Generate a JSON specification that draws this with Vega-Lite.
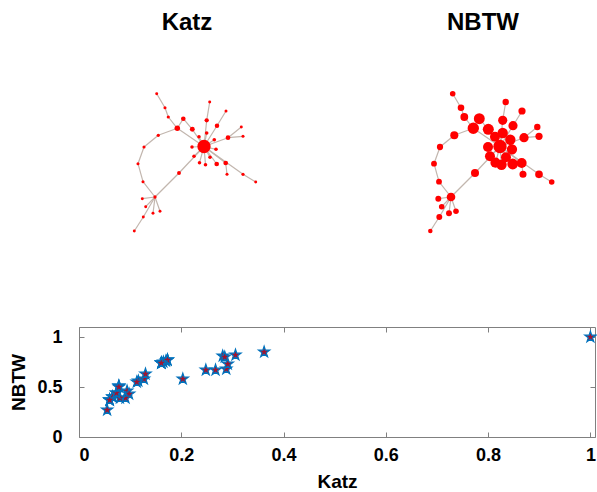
{
  "$schema": "https://vega.github.io/schema/vega-lite/v6.json",
  "background": "white",
  "padding": {"left": 9, "top": 11, "right": 0, "bottom": 0},
  "config": {
    "view": {"stroke": null},
    "font": "Liberation Sans",
    "title": {"fontSize": 24, "fontWeight": "bold", "color": "#000000", "anchor": "middle", "offset": 6}
  },
  "datasets": {
    "nodes": [
      {"id": 0, "x": 205, "y": 145.5, "katz": 1, "nbtw": 1},
      {"id": 1, "x": 157.7, "y": 92.7, "katz": 0.06, "nbtw": 0.37},
      {"id": 2, "x": 166, "y": 106.7, "katz": 0.094, "nbtw": 0.46},
      {"id": 3, "x": 169.3, "y": 116, "katz": 0.116, "nbtw": 0.56},
      {"id": 4, "x": 178.3, "y": 127.3, "katz": 0.362, "nbtw": 0.85},
      {"id": 5, "x": 184.3, "y": 117.7, "katz": 0.281, "nbtw": 0.81},
      {"id": 6, "x": 193.3, "y": 128.3, "katz": 0.306, "nbtw": 0.82},
      {"id": 7, "x": 159.3, "y": 134.3, "katz": 0.127, "nbtw": 0.58},
      {"id": 8, "x": 145, "y": 146, "katz": 0.098, "nbtw": 0.43},
      {"id": 9, "x": 139, "y": 162.7, "katz": 0.091, "nbtw": 0.39},
      {"id": 10, "x": 144, "y": 180.7, "katz": 0.08, "nbtw": 0.39},
      {"id": 11, "x": 156, "y": 196, "katz": 0.13, "nbtw": 0.63},
      {"id": 12, "x": 180, "y": 172, "katz": 0.203, "nbtw": 0.58},
      {"id": 13, "x": 143.3, "y": 197.7, "katz": 0.066, "nbtw": 0.4},
      {"id": 14, "x": 146.7, "y": 205.7, "katz": 0.06, "nbtw": 0.37},
      {"id": 15, "x": 154, "y": 212.3, "katz": 0.066, "nbtw": 0.4},
      {"id": 16, "x": 161, "y": 210.3, "katz": 0.06, "nbtw": 0.37},
      {"id": 17, "x": 144.3, "y": 216, "katz": 0.066, "nbtw": 0.4},
      {"id": 18, "x": 135.3, "y": 230, "katz": 0.055, "nbtw": 0.27},
      {"id": 19, "x": 210.7, "y": 101, "katz": 0.073, "nbtw": 0.44},
      {"id": 20, "x": 207.7, "y": 119.3, "katz": 0.248, "nbtw": 0.67},
      {"id": 21, "x": 227, "y": 110, "katz": 0.078, "nbtw": 0.51},
      {"id": 22, "x": 218, "y": 124.7, "katz": 0.267, "nbtw": 0.67},
      {"id": 23, "x": 242.3, "y": 126, "katz": 0.073, "nbtw": 0.44},
      {"id": 24, "x": 244, "y": 135.3, "katz": 0.078, "nbtw": 0.51},
      {"id": 25, "x": 229, "y": 136.7, "katz": 0.288, "nbtw": 0.68},
      {"id": 26, "x": 207.7, "y": 132, "katz": 0.173, "nbtw": 0.77},
      {"id": 27, "x": 200, "y": 135.7, "katz": 0.161, "nbtw": 0.74},
      {"id": 28, "x": 215.3, "y": 138.7, "katz": 0.173, "nbtw": 0.77},
      {"id": 29, "x": 193, "y": 146, "katz": 0.161, "nbtw": 0.74},
      {"id": 30, "x": 217, "y": 148.3, "katz": 0.17, "nbtw": 0.76},
      {"id": 31, "x": 195, "y": 155.3, "katz": 0.161, "nbtw": 0.74},
      {"id": 32, "x": 200.5, "y": 161.7, "katz": 0.165, "nbtw": 0.75},
      {"id": 33, "x": 206.5, "y": 163.7, "katz": 0.173, "nbtw": 0.77},
      {"id": 34, "x": 211, "y": 156.3, "katz": 0.161, "nbtw": 0.74},
      {"id": 35, "x": 217.7, "y": 163, "katz": 0.285, "nbtw": 0.8},
      {"id": 36, "x": 226.7, "y": 162, "katz": 0.291, "nbtw": 0.73},
      {"id": 37, "x": 228, "y": 173.3, "katz": 0.078, "nbtw": 0.5},
      {"id": 38, "x": 244, "y": 173.3, "katz": 0.113, "nbtw": 0.55},
      {"id": 39, "x": 256.7, "y": 181, "katz": 0.06, "nbtw": 0.37}
    ],
    "edges": [
      {"x1": 157.7, "y1": 92.7, "x2": 166, "y2": 106.7},
      {"x1": 166, "y1": 106.7, "x2": 169.3, "y2": 116},
      {"x1": 169.3, "y1": 116, "x2": 178.3, "y2": 127.3},
      {"x1": 178.3, "y1": 127.3, "x2": 184.3, "y2": 117.7},
      {"x1": 184.3, "y1": 117.7, "x2": 193.3, "y2": 128.3},
      {"x1": 193.3, "y1": 128.3, "x2": 205, "y2": 145.5},
      {"x1": 178.3, "y1": 127.3, "x2": 205, "y2": 145.5},
      {"x1": 178.3, "y1": 127.3, "x2": 159.3, "y2": 134.3},
      {"x1": 159.3, "y1": 134.3, "x2": 145, "y2": 146},
      {"x1": 145, "y1": 146, "x2": 139, "y2": 162.7},
      {"x1": 139, "y1": 162.7, "x2": 144, "y2": 180.7},
      {"x1": 144, "y1": 180.7, "x2": 156, "y2": 196},
      {"x1": 156, "y1": 196, "x2": 180, "y2": 172},
      {"x1": 180, "y1": 172, "x2": 205, "y2": 145.5},
      {"x1": 156, "y1": 196, "x2": 143.3, "y2": 197.7},
      {"x1": 156, "y1": 196, "x2": 146.7, "y2": 205.7},
      {"x1": 156, "y1": 196, "x2": 154, "y2": 212.3},
      {"x1": 156, "y1": 196, "x2": 161, "y2": 210.3},
      {"x1": 156, "y1": 196, "x2": 144.3, "y2": 216},
      {"x1": 144.3, "y1": 216, "x2": 135.3, "y2": 230},
      {"x1": 210.7, "y1": 101, "x2": 207.7, "y2": 119.3},
      {"x1": 207.7, "y1": 119.3, "x2": 205, "y2": 145.5},
      {"x1": 227, "y1": 110, "x2": 218, "y2": 124.7},
      {"x1": 218, "y1": 124.7, "x2": 205, "y2": 145.5},
      {"x1": 242.3, "y1": 126, "x2": 229, "y2": 136.7},
      {"x1": 244, "y1": 135.3, "x2": 229, "y2": 136.7},
      {"x1": 229, "y1": 136.7, "x2": 205, "y2": 145.5},
      {"x1": 207.7, "y1": 132, "x2": 205, "y2": 145.5},
      {"x1": 200, "y1": 135.7, "x2": 205, "y2": 145.5},
      {"x1": 215.3, "y1": 138.7, "x2": 205, "y2": 145.5},
      {"x1": 193, "y1": 146, "x2": 205, "y2": 145.5},
      {"x1": 217, "y1": 148.3, "x2": 205, "y2": 145.5},
      {"x1": 195, "y1": 155.3, "x2": 205, "y2": 145.5},
      {"x1": 200.5, "y1": 161.7, "x2": 205, "y2": 145.5},
      {"x1": 206.5, "y1": 163.7, "x2": 205, "y2": 145.5},
      {"x1": 211, "y1": 156.3, "x2": 205, "y2": 145.5},
      {"x1": 217.7, "y1": 163, "x2": 205, "y2": 145.5},
      {"x1": 226.7, "y1": 162, "x2": 205, "y2": 145.5},
      {"x1": 226.7, "y1": 162, "x2": 228, "y2": 173.3},
      {"x1": 244, "y1": 173.3, "x2": 205, "y2": 145.5},
      {"x1": 256.7, "y1": 181, "x2": 244, "y2": 173.3}
    ]
  },
  "spacing": 85,
  "vconcat": [
    {
      "spacing": 80,
      "hconcat": [
        {
          "width": 216,
          "height": 200,
          "title": "Katz",
          "layer": [
            {
              "data": {"name": "edges"},
              "mark": {"type": "rule", "color": "#c2b6ae", "strokeWidth": 1.2},
              "encoding": {
                "x": {"field": "x1", "type": "quantitative", "scale": {"domain": [80, 296], "nice": false, "zero": false}, "axis": null},
                "y": {"field": "y1", "type": "quantitative", "scale": {"domain": [40, 240], "reverse": true, "nice": false, "zero": false}, "axis": null},
                "x2": {"field": "x2"},
                "y2": {"field": "y2"}
              }
            },
            {
              "data": {"name": "nodes"},
              "mark": {"type": "circle", "color": "#ff0000", "opacity": 1},
              "encoding": {
                "x": {"field": "x", "type": "quantitative", "scale": {"domain": [80, 296], "nice": false, "zero": false}, "axis": null},
                "y": {"field": "y", "type": "quantitative", "scale": {"domain": [40, 240], "reverse": true, "nice": false, "zero": false}, "axis": null},
                "size": {"field": "katz", "type": "quantitative", "scale": {"type": "pow", "exponent": 2, "domain": [0, 1], "range": [8, 177]}, "legend": null}
              }
            }
          ]
        },
        {
          "width": 216,
          "height": 200,
          "title": "NBTW",
          "layer": [
            {
              "data": {"name": "edges"},
              "mark": {"type": "rule", "color": "#c2b6ae", "strokeWidth": 1.2},
              "encoding": {
                "x": {"field": "x1", "type": "quantitative", "scale": {"domain": [80, 296], "nice": false, "zero": false}, "axis": null},
                "y": {"field": "y1", "type": "quantitative", "scale": {"domain": [40, 240], "reverse": true, "nice": false, "zero": false}, "axis": null},
                "x2": {"field": "x2"},
                "y2": {"field": "y2"}
              }
            },
            {
              "data": {"name": "nodes"},
              "mark": {"type": "circle", "color": "#ff0000", "opacity": 1},
              "encoding": {
                "x": {"field": "x", "type": "quantitative", "scale": {"domain": [80, 296], "nice": false, "zero": false}, "axis": null},
                "y": {"field": "y", "type": "quantitative", "scale": {"domain": [40, 240], "reverse": true, "nice": false, "zero": false}, "axis": null},
                "size": {"field": "nbtw", "type": "quantitative", "scale": {"type": "pow", "exponent": 2, "domain": [0.25, 1], "range": [7, 180]}, "legend": null}
              }
            }
          ]
        }
      ]
    },
    {
      "width": 516,
      "height": 110,
      "data": {"name": "nodes"},
      "layer": [
        {
          "mark": {"type": "point", "shape": "M0,-1L0.225,-0.309L0.951,-0.309L0.363,0.118L0.588,0.809L0,0.382L-0.588,0.809L-0.363,0.118L-0.951,-0.309L-0.225,-0.309Z", "filled": true, "fill": "#A2142F", "stroke": "#0072BD", "strokeWidth": 1.2, "size": 135, "opacity": 1},
          "encoding": {
            "x": {
              "field": "katz", "type": "quantitative",
              "scale": {"domain": [0, 1.009], "nice": false},
              "axis": {"orient": "bottom", "values": [0, 0.2, 0.4, 0.6, 0.8, 1], "format": "~g", "grid": false, "domainColor": "#808080", "tickColor": "#808080", "tickSize": -5, "labelFontWeight": "bold", "labelFontSize": 18, "labelColor": "#000000", "labelPadding": 14, "title": "Katz", "titleFontSize": 19, "titleFontWeight": "bold", "titleColor": "#000000", "titlePadding": 8}
            },
            "y": {
              "field": "nbtw", "type": "quantitative",
              "scale": {"domain": [0, 1.1], "nice": false},
              "axis": {"orient": "left", "values": [0, 0.5, 1], "format": "~g", "grid": false, "domainColor": "#808080", "tickColor": "#808080", "tickSize": -5, "labelFontWeight": "bold", "labelFontSize": 18, "labelColor": "#000000", "labelPadding": 22, "title": "NBTW", "titleFontSize": 19, "titleFontWeight": "bold", "titleColor": "#000000", "titlePadding": 8}
            }
          }
        },
        {
          "mark": {"type": "point", "opacity": 0},
          "encoding": {
            "x": {
              "field": "katz", "type": "quantitative",
              "axis": {"orient": "top", "values": [0, 0.2, 0.4, 0.6, 0.8, 1], "labels": false, "title": null, "grid": false, "domainColor": "#808080", "tickColor": "#808080", "tickSize": -5}
            },
            "y": {
              "field": "nbtw", "type": "quantitative",
              "axis": {"orient": "right", "values": [0, 0.5, 1], "labels": false, "title": null, "grid": false, "domainColor": "#808080", "tickColor": "#808080", "tickSize": -5}
            }
          }
        }
      ],
      "resolve": {"axis": {"x": "independent", "y": "independent"}}
    }
  ]
}
